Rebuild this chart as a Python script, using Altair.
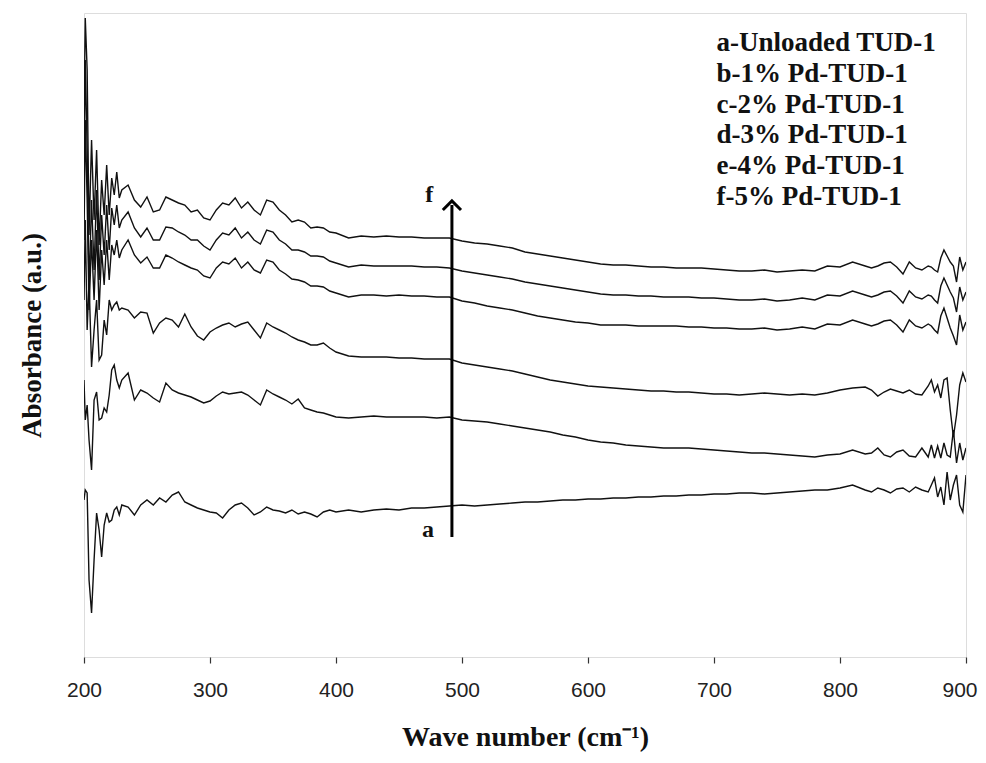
import altair as alt
import pandas as pd

# Wavenumber grid (cm-1)
wavenumber = [200, 201, 202.5, 204, 206, 208, 210, 212, 214, 216, 218, 220, 222, 224, 226, 228, 230,
              235, 240, 245, 250, 255, 260, 265, 270, 275, 280, 285, 290, 295, 300, 305, 310, 315, 320,
              325, 330, 335, 340, 345, 350, 355, 360, 365, 370, 375, 380, 385, 390, 395, 400,
              410, 420, 430, 440, 450, 460, 470, 480, 490, 500, 510, 520, 530, 540, 550, 560, 570, 580,
              590, 600, 610, 620, 630, 640, 650, 660, 670, 680, 690, 700, 710, 720, 730, 740, 750, 760,
              770, 780, 790, 800, 810, 820,
              825, 830, 835, 840, 845, 850, 855, 860, 865, 870,
              872.5, 875, 877.5, 880, 882.5, 885, 887.5, 890, 892.5, 895, 897.5, 900]

abs_f = [5.37, 6.39, 5.87, 4.22, 5.17, 4.37, 5.07, 4.12, 4.77, 4.42, 4.92, 4.42, 4.79, 4.62, 4.85, 4.59, 4.67,
         4.72, 4.57, 4.50, 4.60, 4.45, 4.47, 4.60, 4.57, 4.54, 4.52, 4.45, 4.47, 4.39, 4.37, 4.47, 4.54, 4.52, 4.59,
         4.49, 4.55, 4.47, 4.42, 4.57, 4.55, 4.47, 4.42, 4.35, 4.37, 4.35, 4.29, 4.30, 4.29, 4.25, 4.24,
         4.19, 4.21, 4.20, 4.21, 4.20, 4.20, 4.19, 4.19, 4.19, 4.16, 4.14, 4.13, 4.11, 4.09, 4.05, 4.03, 4.01, 3.99,
         3.97, 3.95, 3.93, 3.92, 3.92, 3.91, 3.90, 3.90, 3.89, 3.89, 3.89, 3.88, 3.87, 3.86, 3.86, 3.87, 3.85, 3.86,
         3.87, 3.86, 3.91, 3.90, 3.95, 3.91,
         3.89, 3.91, 3.94, 3.95, 3.90, 3.83, 3.95, 3.89, 3.87, 3.91,
         3.90, 3.87, 3.85, 3.99, 4.07, 4.01, 3.95, 3.91, 3.75, 4.00, 3.87, 3.95]

abs_e = [4.77, 5.97, 5.07, 3.67, 4.57, 3.87, 4.67, 3.77, 4.42, 4.02, 4.52, 4.07, 4.49, 4.32, 4.52, 4.29, 4.37,
         4.45, 4.29, 4.20, 4.29, 4.17, 4.17, 4.30, 4.29, 4.25, 4.22, 4.17, 4.17, 4.11, 4.07, 4.17, 4.24, 4.22, 4.29,
         4.19, 4.25, 4.17, 4.13, 4.27, 4.25, 4.17, 4.13, 4.07, 4.07, 4.05, 4.01, 4.01, 4.00, 3.96, 3.94,
         3.90, 3.92, 3.91, 3.91, 3.91, 3.91, 3.90, 3.90, 3.89, 3.86, 3.84, 3.82, 3.80, 3.78, 3.75, 3.73, 3.71, 3.69,
         3.67, 3.65, 3.63, 3.62, 3.62, 3.61, 3.61, 3.60, 3.60, 3.60, 3.59, 3.59, 3.58, 3.57, 3.57, 3.58, 3.56, 3.57,
         3.59, 3.57, 3.62, 3.61, 3.66, 3.62,
         3.60, 3.62, 3.65, 3.66, 3.61, 3.54, 3.66, 3.60, 3.58, 3.62,
         3.61, 3.57, 3.54, 3.71, 3.79, 3.72, 3.65, 3.59, 3.45, 3.70, 3.57, 3.65]

abs_d = [4.17, 5.37, 4.57, 3.47, 4.17, 3.57, 4.27, 3.47, 4.07, 3.72, 4.17, 3.77, 4.12, 4.02, 4.17, 3.99, 4.07,
         4.17, 4.02, 3.94, 4.00, 3.89, 3.89, 4.02, 3.99, 3.95, 3.92, 3.89, 3.87, 3.81, 3.79, 3.89, 3.95, 3.93, 3.99,
         3.89, 3.95, 3.87, 3.84, 3.97, 3.95, 3.87, 3.83, 3.78, 3.77, 3.75, 3.71, 3.71, 3.70, 3.66, 3.64,
         3.60, 3.62, 3.62, 3.61, 3.62, 3.61, 3.61, 3.60, 3.60, 3.56, 3.54, 3.51, 3.49, 3.47, 3.44, 3.41, 3.39, 3.37,
         3.35, 3.34, 3.32, 3.32, 3.32, 3.31, 3.31, 3.31, 3.31, 3.30, 3.30, 3.29, 3.29, 3.28, 3.28, 3.29, 3.27, 3.28,
         3.30, 3.28, 3.33, 3.32, 3.37, 3.33,
         3.31, 3.33, 3.36, 3.37, 3.32, 3.25, 3.37, 3.31, 3.29, 3.33,
         3.31, 3.27, 3.24, 3.41, 3.49, 3.39, 3.29, 3.21, 3.12, 3.42, 3.27, 3.35]

abs_c = [3.57, 4.37, 3.27, 3.77, 2.90, 3.27, 3.57, 2.97, 3.02, 3.37, 3.22, 3.57, 3.47, 3.52, 3.55, 3.47, 3.49,
         3.47, 3.39, 3.45, 3.44, 3.24, 3.34, 3.39, 3.37, 3.30, 3.43, 3.30, 3.21, 3.17, 3.25, 3.29, 3.32, 3.34, 3.30,
         3.33, 3.35, 3.27, 3.19, 3.34, 3.30, 3.27, 3.24, 3.20, 3.17, 3.15, 3.12, 3.12, 3.14, 3.09, 3.05,
         3.01, 3.00, 3.00, 3.00, 2.99, 2.99, 2.98, 2.98, 2.98, 2.94, 2.92, 2.90, 2.88, 2.86, 2.83, 2.80, 2.77, 2.75,
         2.73, 2.71, 2.70, 2.69, 2.68, 2.67, 2.66, 2.66, 2.65, 2.65, 2.64, 2.63, 2.63, 2.62, 2.63, 2.64, 2.63, 2.62,
         2.63, 2.62, 2.64, 2.67, 2.69, 2.70,
         2.67, 2.61, 2.65, 2.68, 2.66, 2.64, 2.67, 2.63, 2.62, 2.71,
         2.77, 2.65, 2.72, 2.59, 2.77, 2.79, 2.47, 2.20, 2.42, 2.72, 2.84, 2.75]

abs_b = [2.77, 2.37, 2.52, 2.17, 1.87, 2.57, 2.65, 2.37, 2.39, 2.49, 2.45, 2.62, 2.87, 2.92, 2.77, 2.69, 2.77,
         2.84, 2.57, 2.67, 2.64, 2.59, 2.55, 2.74, 2.67, 2.64, 2.62, 2.60, 2.57, 2.54, 2.56, 2.61, 2.65, 2.63, 2.64,
         2.65, 2.62, 2.57, 2.52, 2.67, 2.63, 2.60, 2.57, 2.53, 2.58, 2.49, 2.47, 2.45, 2.44, 2.42, 2.40,
         2.39, 2.40, 2.41, 2.40, 2.40, 2.40, 2.40, 2.39, 2.40, 2.37, 2.36, 2.35, 2.33, 2.31, 2.29, 2.27, 2.25, 2.22,
         2.20, 2.17, 2.15, 2.14, 2.12, 2.11, 2.10, 2.09, 2.09, 2.09, 2.08, 2.07, 2.06, 2.05, 2.04, 2.04, 2.03, 2.02,
         2.01, 2.00, 2.02, 2.03, 2.07, 2.03,
         2.04, 2.09, 2.02, 2.00, 2.05, 2.07, 2.01, 2.00, 2.09, 2.00,
         2.12, 1.99, 2.11, 1.99, 2.14, 2.02, 2.00, 2.27, 1.94, 2.14, 1.97, 2.09]

abs_a = [1.57, 1.67, 1.64, 0.77, 0.44, 0.97, 1.44, 1.27, 1.00, 1.32, 1.44, 1.35, 1.37, 1.47, 1.50, 1.42, 1.52,
         1.50, 1.42, 1.52, 1.57, 1.52, 1.59, 1.55, 1.62, 1.65, 1.55, 1.52, 1.49, 1.47, 1.45, 1.44, 1.39, 1.47, 1.52,
         1.54, 1.49, 1.42, 1.45, 1.50, 1.47, 1.46, 1.44, 1.47, 1.43, 1.45, 1.43, 1.40, 1.45, 1.47, 1.45,
         1.47, 1.45, 1.47, 1.48, 1.47, 1.49, 1.49, 1.50, 1.51, 1.52, 1.51, 1.52, 1.53, 1.54, 1.55, 1.55, 1.56, 1.57,
         1.57, 1.58, 1.58, 1.59, 1.59, 1.60, 1.60, 1.61, 1.61, 1.62, 1.62, 1.63, 1.63, 1.64, 1.64, 1.63, 1.64, 1.65,
         1.66, 1.67, 1.67, 1.69, 1.72, 1.67,
         1.65, 1.69, 1.67, 1.64, 1.68, 1.69, 1.65, 1.70, 1.67, 1.65,
         1.72, 1.79, 1.60, 1.70, 1.52, 1.85, 1.57, 1.72, 1.82, 1.52, 1.45, 1.82]

series_names = ["a", "b", "c", "d", "e", "f"]
series_values = [abs_a, abs_b, abs_c, abs_d, abs_e, abs_f]

legend_labels = ["a-Unloaded TUD-1", "b-1% Pd-TUD-1", "c-2% Pd-TUD-1",
                 "d-3% Pd-TUD-1", "e-4% Pd-TUD-1", "f-5% Pd-TUD-1"]
legend_wn = 702
legend_abs = [6.14, 5.83, 5.52, 5.22, 4.91, 4.60]

arrow_wn = 492
arrow_from = 1.20
arrow_to = 4.52
arrow_labels = ["a", "f"]
arrow_label_wn = [473, 474]
arrow_label_abs = [1.27, 4.62]

x_ticks = [200, 300, 400, 500, 600, 700, 800, 900]

rows = []
for name, vals in zip(series_names, series_values):
    for w, v in zip(wavenumber, vals):
        rows.append({"wn": w, "A": v, "s": name})
df = pd.DataFrame(rows)

x_enc = alt.X("wn:Q",
              scale=alt.Scale(domain=[200, 900], nice=False, zero=False),
              axis=alt.Axis(values=x_ticks, title="Wave number (cm\u207B\u00B9)", grid=False,
                            domain=False, tickColor="#333", tickSize=6, tickWidth=1.2,
                            labelFont="Liberation Sans", labelFontSize=21, labelColor="#222",
                            labelPadding=16, labelFlush=False,
                            labelAlign={"expr": "datum.value == 900 ? 'right' : 'center'"},
                            labelOffset={"expr": "datum.value == 900 ? 11 : 0"},
                            titleFont="Liberation Serif", titleFontSize=28, titleFontWeight="bold",
                            titleColor="#111", titleX=441, titleY=80, titleBaseline="middle",
                            titleAnchor="middle"))
y_enc = alt.Y("A:Q",
              scale=alt.Scale(domain=[0, 6.44], nice=False, zero=False),
              axis=alt.Axis(labels=False, ticks=False, domain=False, grid=False,
                            title="Absorbance (a.u.)",
                            titleFont="Liberation Serif", titleFontSize=27, titleFontWeight="bold",
                            titleColor="#111", titleX=-52, titleY=322, titleAngle=270,
                            titleBaseline="middle", titleAlign="center"))

lines = alt.Chart(df).mark_line(color="#111", strokeWidth=1.4, clip=True).encode(
    x=x_enc, y=y_enc, detail="s:N")

arrow_df = pd.DataFrame({"wn": [arrow_wn], "A": [arrow_from], "A2": [arrow_to]})
arrow = alt.Chart(arrow_df).mark_rule(color="#000", strokeWidth=3).encode(
    x=x_enc, y=y_enc, y2="A2:Q")

head_df = pd.DataFrame({"wn": [arrow_wn], "A": [arrow_to]})
head = alt.Chart(head_df).mark_point(
    shape="M-1,0.55L0,-0.45L1,0.55", filled=False, size=330, strokeWidth=3,
    color="#000", opacity=1).encode(x=x_enc, y=y_enc)

alab_df = pd.DataFrame({"wn": arrow_label_wn, "A": arrow_label_abs, "t": arrow_labels})
alab = alt.Chart(alab_df).mark_text(
    font="Liberation Serif", fontWeight="bold", fontSize=24, color="#111",
    align="center", baseline="middle").encode(x=x_enc, y=y_enc, text="t:N")

leg_df = pd.DataFrame({"wn": [legend_wn] * len(legend_labels), "A": legend_abs, "t": legend_labels})
leg = alt.Chart(leg_df).mark_text(
    font="Liberation Serif", fontWeight="bold", fontSize=27, color="#111",
    align="left", baseline="middle").encode(x=x_enc, y=y_enc, text="t:N")

chart = alt.layer(lines, arrow, head, alab, leg).properties(
    width=882, height=644,
    autosize=alt.AutoSizeParams(type="none"),
    padding={"left": 76, "top": 5, "right": 12, "bottom": 96},
).configure_view(stroke="#222", strokeWidth=1.5).configure(background="white")

chart.save("out.html", embed_options={"renderer": "svg", "actions": False})
